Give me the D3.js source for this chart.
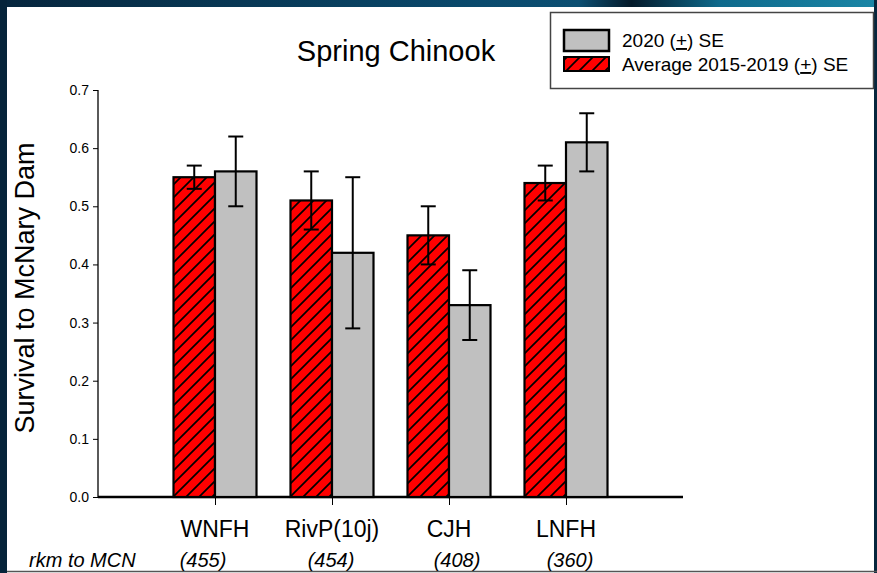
<!DOCTYPE html>
<html>
<head>
<meta charset="utf-8">
<script src="https://cdn.jsdelivr.net/npm/d3@7"></script>
<style>
  html, body { margin: 0; padding: 0; background: #fff; }
  svg { display: block; font-family: "Liberation Sans", Arial, sans-serif; }
</style>
</head>
<body>
<svg id="chart" width="877" height="573"></svg>
<script>
const CATEGORIES = ["WNFH", "RivP(10j)", "CJH", "LNFH"];
const RKM_LABELS = ["(455)", "(454)", "(408)", "(360)"];
const AVG_VALUES = [0.55, 0.51, 0.45, 0.54];
const AVG_SE = [0.02, 0.05, 0.05, 0.03];
const Y2020_VALUES = [0.56, 0.42, 0.33, 0.61];
const Y2020_SE = [0.06, 0.13, 0.06, 0.05];
const Y_TICKS = [0, 0.1, 0.2, 0.3, 0.4, 0.5, 0.6, 0.7];

const W = 877, H = 573;
const svg = d3.select("#chart");

// slide frame: dark strip on top and left, light band of the template
const defs = svg.append("defs");
const topGrad = defs.append("linearGradient").attr("id", "topGrad");
topGrad.append("stop").attr("offset", "0%").attr("stop-color", "#06263d");
topGrad.append("stop").attr("offset", "55%").attr("stop-color", "#0a4a6d");
topGrad.append("stop").attr("offset", "66%").attr("stop-color", "#0c4f72");
topGrad.append("stop").attr("offset", "72%").attr("stop-color", "#041a2a");
topGrad.append("stop").attr("offset", "82%").attr("stop-color", "#0f6a8c");
topGrad.append("stop").attr("offset", "100%").attr("stop-color", "#1b86a6");

const hatch = defs.append("pattern")
  .attr("id", "hatch")
  .attr("patternUnits", "userSpaceOnUse")
  .attr("width", 13).attr("height", 13);
hatch.append("rect").attr("width", 13).attr("height", 13).attr("fill", "#ff0000");
hatch.append("path")
  .attr("d", "M-3,3 L3,-3 M0,13 L13,0 M10,16 L16,10")
  .attr("stroke", "#000").attr("stroke-width", 1.7);

svg.append("rect").attr("width", W).attr("height", H).attr("fill", "#fff");
svg.append("rect").attr("width", W).attr("height", 7).attr("fill", "url(#topGrad)");
svg.append("rect").attr("width", 7).attr("height", H).attr("fill", "#05243a");
svg.append("rect").attr("x", 874).attr("width", 3).attr("height", H).attr("fill", "#06263d");
svg.append("line")
  .attr("x1", 7).attr("x2", W).attr("y1", 571.5).attr("y2", 571.5)
  .attr("stroke", "#555").attr("stroke-width", 1.5);

const x = d3.scalePoint().domain(CATEGORIES).range([98, 683]).padding(1);
const xSeries = d3.scaleBand().domain(["avg", "2020"]).range([-41.5, 41.5]);
const y = d3.scaleLinear().domain([0, 0.7]).range([497, 90]);

const rows = CATEGORIES.map((c, i) => ({
  cat: c,
  bars: [
    { key: "avg", value: AVG_VALUES[i], se: AVG_SE[i] },
    { key: "2020", value: Y2020_VALUES[i], se: Y2020_SE[i] }
  ]
}));

// axes
const yAxis = d3.axisLeft(y).tickValues(Y_TICKS).tickFormat(d3.format(".1f")).tickSize(5).tickPadding(4);
const gy = svg.append("g").attr("transform", "translate(98,0)").call(yAxis);
gy.select(".domain").attr("stroke", "#000").attr("stroke-width", 1.3).attr("d", "M0,90V497");
gy.selectAll(".tick line").attr("stroke", "#000").attr("stroke-width", 1);
gy.selectAll(".tick text").attr("font-size", 14).attr("fill", "#000")
  .attr("font-family", "Liberation Sans, Arial, sans-serif");

const xAxis = d3.axisBottom(x).tickSize(8).tickFormat("");
const gx = svg.append("g").attr("transform", "translate(0,497)").call(xAxis);
gx.select(".domain").attr("stroke", "#000").attr("stroke-width", 2.5).attr("d", "M98,0H683");
gx.selectAll(".tick line").attr("stroke", "#000").attr("stroke-width", 1);

// bars
const groups = svg.append("g").selectAll("g")
  .data(rows)
  .join("g")
  .attr("transform", d => `translate(${x(d.cat)},0)`);

groups.selectAll("rect")
  .data(d => d.bars)
  .join("rect")
  .attr("x", d => xSeries(d.key))
  .attr("width", xSeries.bandwidth())
  .attr("y", d => y(d.value))
  .attr("height", d => y(0) - y(d.value))
  .attr("fill", d => d.key === "avg" ? "url(#hatch)" : "#c0c0c0")
  .attr("stroke", "#000")
  .attr("stroke-width", 2.2);

// error bars
const err = groups.selectAll("g.err")
  .data(d => d.bars)
  .join("g")
  .attr("class", "err")
  .attr("transform", d => `translate(${xSeries(d.key) + xSeries.bandwidth() / 2},0)`)
  .attr("stroke", "#000")
  .attr("stroke-width", 2);
err.append("line")
  .attr("y1", d => y(d.value + d.se)).attr("y2", d => y(d.value - d.se));
err.append("line")
  .attr("x1", -7.5).attr("x2", 7.5)
  .attr("y1", d => y(d.value + d.se)).attr("y2", d => y(d.value + d.se));
err.append("line")
  .attr("x1", -7.5).attr("x2", 7.5)
  .attr("y1", d => y(d.value - d.se)).attr("y2", d => y(d.value - d.se));

// category and rkm labels
svg.append("g").selectAll("text")
  .data(CATEGORIES)
  .join("text")
  .attr("x", d => x(d))
  .attr("y", 537)
  .attr("text-anchor", "middle")
  .attr("font-size", 23)
  .text(d => d);

const rkmNudge = [-12, -1, 8, 4];
svg.append("g").selectAll("text")
  .data(RKM_LABELS)
  .join("text")
  .attr("x", (d, i) => x(CATEGORIES[i]) + rkmNudge[i])
  .attr("y", 567)
  .attr("text-anchor", "middle")
  .attr("font-size", 20)
  .attr("font-style", "italic")
  .text(d => d);

svg.append("text")
  .attr("x", 29).attr("y", 567)
  .attr("font-size", 20)
  .attr("font-style", "italic")
  .text("rkm to MCN");

// y axis title
svg.append("text")
  .attr("transform", "translate(34,288) rotate(-90)")
  .attr("text-anchor", "middle")
  .attr("font-size", 27)
  .text("Survival to McNary Dam");

// chart title
svg.append("text")
  .attr("x", 396).attr("y", 61)
  .attr("text-anchor", "middle")
  .attr("font-size", 29)
  .text("Spring Chinook");

// legend
const legend = svg.append("g");
legend.append("rect")
  .attr("x", 550.5).attr("y", 12.5).attr("width", 323).attr("height", 76)
  .attr("fill", "#fff").attr("stroke", "#444").attr("stroke-width", 1.5);
legend.append("rect")
  .attr("x", 564).attr("y", 30).attr("width", 45).attr("height", 21)
  .attr("fill", "#c0c0c0").attr("stroke", "#000").attr("stroke-width", 2.5);
legend.append("rect")
  .attr("x", 564).attr("y", 57).attr("width", 45).attr("height", 14)
  .attr("fill", "url(#hatch)").attr("stroke", "#000").attr("stroke-width", 2);

const legendItems = [
  { pre: "2020 (", post: ") SE", y: 47 },
  { pre: "Average 2015-2019 (", post: ") SE", y: 71 }
];
legendItems.forEach(item => {
  const t = legend.append("text").attr("x", 622).attr("y", item.y).attr("font-size", 19);
  t.append("tspan").text(item.pre);
  t.append("tspan").attr("text-decoration", "underline").text("+");
  t.append("tspan").text(item.post);
});
</script>
</body>
</html>
